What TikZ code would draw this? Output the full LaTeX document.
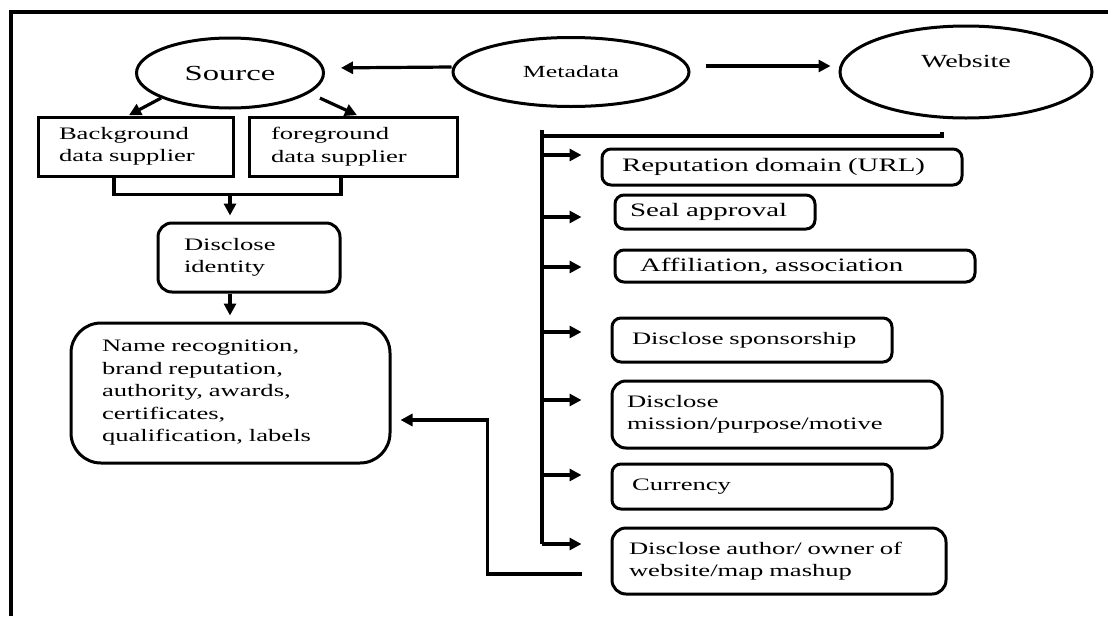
\documentclass[tikz,border=0pt]{standalone}
\usepackage{fontspec}
\setmainfont{Liberation Serif}[FakeStretch=1.52]
\usetikzlibrary{shapes.geometric}
\usetikzlibrary{positioning}
\usetikzlibrary{arrows.meta}
\usetikzlibrary{calc}
\tikzset{
    ovalnode/.style = {ellipse, line width=3pt, draw=black, inner sep=0pt},
    sqbox/.style = {rectangle, line width=3pt, draw=black, align=left, inner sep=0pt},
    rbox/.style = {rectangle, rounded corners=9pt, line width=3pt, draw=black, align=left, inner sep=0pt},
    edgen/.style = {-{Triangle[length=12pt,width=12pt]}, line width=3.2pt},
    linen/.style = {line width=3.2pt},
    bigtext/.style = {font=\fontsize{19}{23}\selectfont}
}

\begin{document}
\begin{tikzpicture}[x=1pt, y=-1pt, font=\fontsize{17.5}{22.5}\selectfont]
  \useasboundingbox (0,0) rectangle (1108,616);
  \draw[line width=4.5pt] (11,616) -- (11,12) -- (1108,12);

  % ovals
  \node[ovalnode, minimum width=187pt, minimum height=70pt, font=\fontsize{21.5}{25}\selectfont] (source) at (230,73) {Source};
  \node[ovalnode, minimum width=236pt, minimum height=69pt, font=\fontsize{17}{21}\selectfont] (meta) at (571,72) {Metadata};
  \node[ovalnode, minimum width=252pt, minimum height=92pt, align=center, font=\fontsize{18.5}{22}\selectfont] (web) at (966,72) {Website\\~};

  % left column
  \node[sqbox, minimum width=195pt, minimum height=59pt, text width=153pt] (bg) at (135.5,146.5) {Background\\data supplier};
  \node[sqbox, minimum width=208pt, minimum height=59pt, text width=164pt] (fg) at (353,146.5) {foreground\\data supplier};
  \node[rbox, rounded corners=14pt, minimum width=182pt, minimum height=69pt, text width=130pt] (ident) at (249,257.5) {Disclose\\identity};
  \node[rbox, rounded corners=30pt, minimum width=319pt, minimum height=140pt, text width=257pt] (name) at (230.5,393) {Name recognition,\\brand reputation,\\authority, awards,\\certificates,\\qualification, labels};

  % right column
  \node[rbox, bigtext, minimum width=360pt, minimum height=36pt, text width=320pt] (rep) at (782,167) {Reputation domain (URL)};
  \node[rbox, bigtext, minimum width=200pt, minimum height=34pt, text width=170pt] (seal) at (715,212) {Seal approval};
  \node[rbox, bigtext, minimum width=360pt, minimum height=32pt, text width=310pt] (aff) at (795,266) {Affiliation, association};
  \node[rbox, minimum width=280pt, minimum height=44pt, text width=240pt] (spon) at (752,340) {Disclose sponsorship};
  \node[rbox, rounded corners=14pt, minimum width=330pt, minimum height=67pt, text width=300pt] (mission) at (777,414.5) {Disclose\\mission/purpose/motive};
  \node[rbox, minimum width=280pt, minimum height=45pt, text width=240pt] (curr) at (752,486.5) {Currency};
  \node[rbox, rounded corners=14pt, minimum width=334pt, minimum height=66pt, text width=300pt] (author) at (779,561) {Disclose author/ owner of\\website/map mashup};

  % top arrows
  \draw[edgen, shorten >=16pt] ([yshift=5pt]meta.west) -- ([yshift=5pt]source.east);
  \draw[edgen, shorten <=15pt, shorten >=8pt] ([yshift=6pt]meta.east) -- ([yshift=6pt]web.west);
  \draw[edgen] (source.200) -- ++(-32,17);
  \draw[edgen] ([xshift=21pt]source.-20) -- ++(37,17);

  % suppliers to identity
  \draw[linen] ([xshift=-21.5pt]bg.south) -- ++(0,17) coordinate (bl) -| ([xshift=-12pt]fg.south);
  \coordinate (join) at (bl -| source);
  \draw[edgen, shorten >=6pt] (join) -- (join |- ident.north);
  \draw[edgen, shorten >=6pt] (join |- ident.south) -- (join |- name.north);

  % website branch
  \coordinate (hub) at ([xshift=-24pt,yshift=-12pt]web.south);
  \coordinate (trunk) at (542,130);
  \draw[linen] ([yshift=-6pt]trunk) -| (hub);
  \foreach \b/\dy/\s in {rep/-12/19pt, seal/5/32pt, aff/1/32pt, spon/-8/29pt, mission/-14.5/29pt, curr/-11.5/29pt, author/-17/29pt}{
    \coordinate (t\b) at ($(\b.west)+(0,\dy)$);
    \draw[edgen, shorten >=\s] (trunk |- t\b) -- (t\b);
  }
  \draw[linen] (trunk) -- (trunk |- tauthor);

  % back to name box
  \draw[edgen, shorten >=9pt] ([xshift=-29pt,yshift=-13pt]author.west) -- ++(-94,0) |- ([yshift=-27pt]name.east);
\end{tikzpicture}
\end{document}
